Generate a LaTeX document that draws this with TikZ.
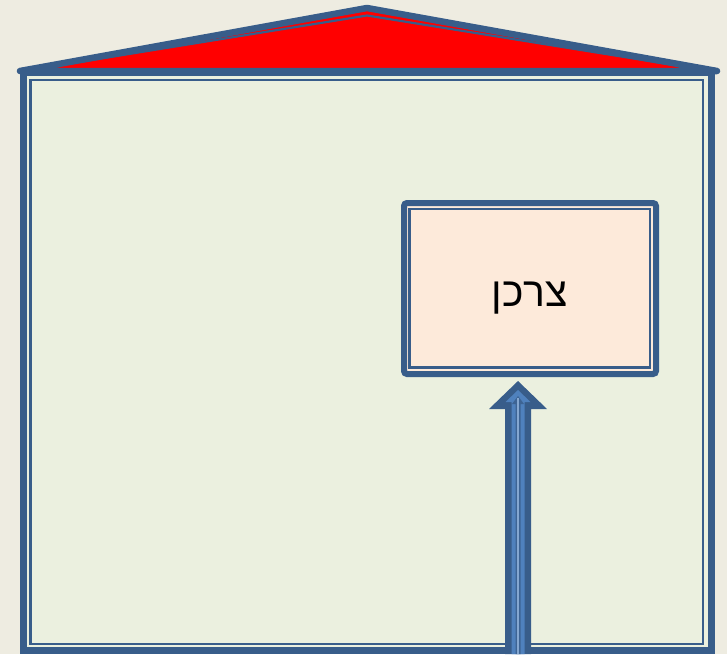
\documentclass[tikz,border=0pt]{standalone}
\usepackage{fontspec}
\setmainfont{Liberation Sans}
\TeXXeTstate=1
\usetikzlibrary{calc}
\definecolor{bgc}{HTML}{EEECE1}
\definecolor{dblue}{HTML}{385D8A}
\definecolor{lblue}{HTML}{4F81BD}
\definecolor{wallc}{HTML}{EBF0DF}
\definecolor{boxc}{HTML}{FDEADA}
\tikzset{
  wall/.style={draw=dblue, line width=7pt, fill=wallc},
  thinline/.style={draw=dblue, line width=2.4pt},
  roof/.style={draw=dblue, line width=6.5pt, fill=red, line join=round, line cap=round},
  stickbox/.style={draw=dblue, line width=6pt, fill=boxc, rounded corners=3pt,
    minimum width=252pt, minimum height=171pt, inner sep=0pt, outer sep=0pt},
  lbl/.style={font=\fontsize{41}{44}\selectfont, inner sep=0pt},
}
\begin{document}
\begin{tikzpicture}[x=1pt,y=-1pt]
\useasboundingbox (0,0) rectangle (727,654);
\fill[bgc] (0,0) rectangle (727,654);
% wall
\path[wall] (23.5,72) rectangle (711.5,650.5);
\draw[thinline] (30.5,80) rectangle (703,644);
% roof
\draw[roof] (20,71) -- (367,8) -- (717,71) -- cycle;
\draw[draw=dblue, line width=2.2pt, line join=round] (30,70) -- (367,15.5) -- (705,70);
% consumer box
\node[stickbox] (consumer) at (530,288.5) {};
\draw[thinline, line width=2.2pt] ($(consumer.north west)+(5.5,6)$) rectangle ($(consumer.south east)+(-6,-6.5)$);
\node[lbl] (name) at ($(consumer.center)+(0,10)$) {\beginR צרכן\endR};
% arrow
\coordinate (abase) at (518,654);
\coordinate (atip) at (518,381);
\fill[dblue] ($(abase)+(-13,0)$) -- ($(atip)+(-13,28)$) -- ($(atip)+(-29,28)$) -- (atip)
  -- ($(atip)+(29,28)$) -- ($(atip)+(13,28)$) -- ($(abase)+(13,0)$) -- cycle;
\fill[lblue] ($(abase)+(-6.5,0)$) -- ($(atip)+(-6.5,21)$) -- ($(atip)+(-12.5,21)$) -- ($(atip)+(0,9)$)
  -- ($(atip)+(12.5,21)$) -- ($(atip)+(6.5,21)$) -- ($(abase)+(6.5,0)$) -- cycle;
\fill[dblue!80!lblue] ($(abase)+(-2.5,0)$) -- ($(atip)+(-2.5,23)$) -- ($(atip)+(-6,23)$) -- ($(atip)+(0,15)$)
  -- ($(atip)+(6,23)$) -- ($(atip)+(2.5,23)$) -- ($(abase)+(2.5,0)$) -- cycle;
\draw[lblue!70!white, line width=1.2pt] (abase) -- ($(atip)+(0,17)$);
\end{tikzpicture}
\end{document}
